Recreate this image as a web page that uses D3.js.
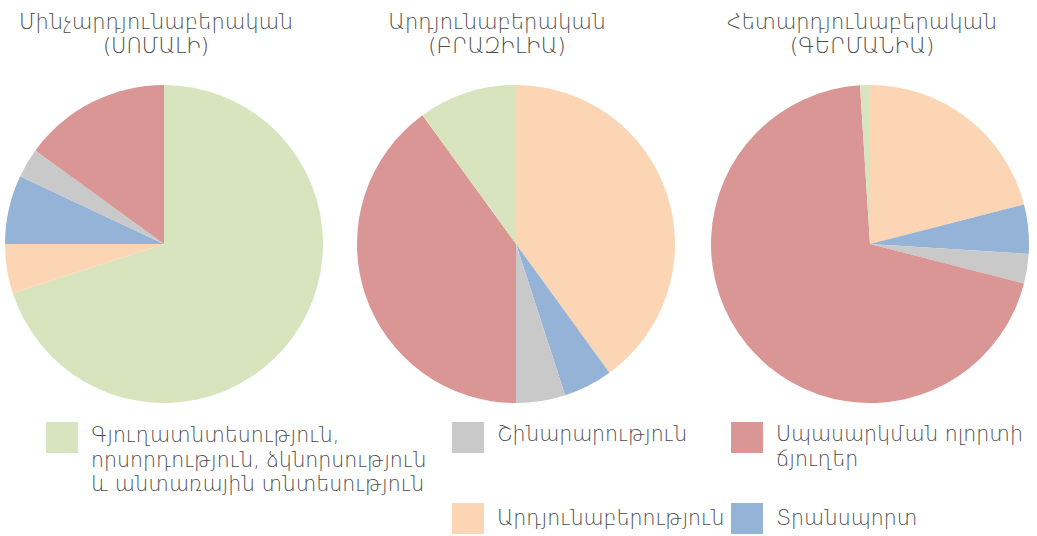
<!DOCTYPE html>
<html>
<head>
<meta charset="utf-8">
<script src="https://cdn.jsdelivr.net/npm/d3@7"></script>
<style>
  body { margin: 0; background: #ffffff; }
  svg { display: block; font-family: "DejaVu Sans", "Noto Sans", sans-serif; }
</style>
</head>
<body>
<svg id="chart" width="1037" height="536"></svg>
<script>
// sectors (legend order)
const sectors = ["agri", "industry", "transport", "construction", "services"];
const sectorColors = ["#d7e4bd", "#fcd5b5", "#95b3d7", "#c9c9c9", "#d99694"];
const sectorLabels = [
    ["Գյուղատնտեսություն,", "որսորդություն, ձկնորսություն", "և անտառային տնտեսություն"],
    ["Արդյունաբերություն"],
    ["Տրանսպորտ"],
    ["Շինարարություն"],
    ["Սպասարկման ոլորտի", "ճյուղեր"]
];

// share of each sector, %, same order as sectors
const somaliaValues = [70, 5, 7, 3, 15];
const brazilValues = [10, 40, 5, 5, 40];
const germanyValues = [1, 21, 5, 3, 70];

const chartTitles = [
    ["Մինչարդյունաբերական", "(ՍՈՄԱԼԻ)"],
    ["Արդյունաբերական", "(ԲՐԱԶԻԼԻԱ)"],
    ["Հետարդյունաբերական", "(ԳԵՐՄԱՆԻԱ)"]
];

// order the slices go round the clock
const somaliaOrder = ["agri", "industry", "transport", "construction", "services"];
const otherOrder = ["industry", "transport", "construction", "services", "agri"];

const charts = [
    { values: somaliaValues, order: somaliaOrder, title: chartTitles[0] },
    { values: brazilValues, order: otherOrder, title: chartTitles[1] },
    { values: germanyValues, order: otherOrder, title: chartTitles[2] }
];

const svg = d3.select("#chart");
const radius = 159;
const centersX = [164, 516, 870];
const centerY = 244;
const titleShift = [-8, -19, -8];

const color = d3.scaleOrdinal().domain(sectors).range(sectorColors);

const pie = d3.pie()
    .sort(null)
    .value(d => d.value);

const arc = d3.arc()
    .innerRadius(0)
    .outerRadius(radius);

charts.forEach((chart, i) => {
    const chartData = chart.order.map(key => ({
        sector: key,
        value: chart.values[sectors.indexOf(key)]
    }));

    const g = svg.append("g")
        .attr("transform", `translate(${centersX[i]}, ${centerY})`);

    g.selectAll("path")
        .data(pie(chartData))
        .join("path")
        .attr("d", arc)
        .attr("fill", d => color(d.data.sector));

    const title = svg.append("text")
        .attr("text-anchor", "middle")
        .attr("fill", "#4a4a4a")
        .attr("font-size", "21px")
        .attr("font-weight", 200);

    title.selectAll("tspan")
        .data(chart.title)
        .join("tspan")
        .attr("x", centersX[i] + titleShift[i])
        .attr("y", (d, j) => 29 + j * 24)
        .text(d => d);
});

// legend: square top-left and text baseline for each sector
const legendPos = [
    { x: 46, y: 422, base: 442 },
    { x: 452, y: 503, base: 525 },
    { x: 731, y: 503, base: 525 },
    { x: 452, y: 422, base: 441 },
    { x: 731, y: 422, base: 441 }
];

const legendItems = svg.selectAll(".legend-item")
    .data(sectors)
    .join("g")
    .attr("class", "legend-item")
    .attr("transform", (d, i) => `translate(${legendPos[i].x}, ${legendPos[i].y})`);

legendItems.append("rect")
    .attr("width", 32)
    .attr("height", 31)
    .attr("fill", d => color(d));

legendItems.append("text")
    .attr("fill", "#4a4a4a")
    .attr("font-size", "20.5px")
    .attr("font-weight", 200)
    .each(function (d, i) {
        d3.select(this).selectAll("tspan")
            .data(sectorLabels[i])
            .join("tspan")
            .attr("x", 45)
            .attr("y", (t, j) => legendPos[i].base - legendPos[i].y + j * 24.5)
            .text(t => t);
    });
</script>
</body>
</html>
